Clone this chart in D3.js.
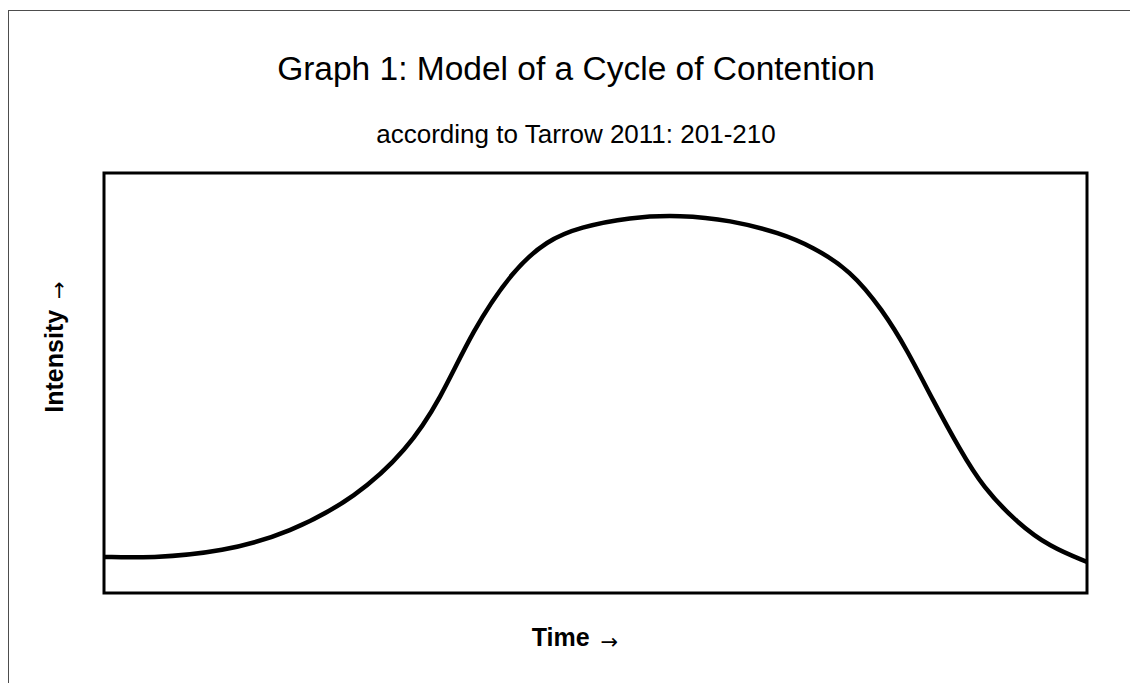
<!DOCTYPE html>
<html>
<head>
<meta charset="utf-8">
<script src="https://cdn.jsdelivr.net/npm/d3@7"></script>
<style>
  body { margin: 0; background: #fff; }
  text { font-family: "Liberation Sans", Arial, sans-serif; fill: #000; }
  .arrow { font-family: "DejaVu Sans", sans-serif; font-weight: normal; }
</style>
</head>
<body>
<div id="chart"></div>
<script>
// values (time 0-100, intensity 0-100)
const timePoints = [0, 4.7, 12.1, 18.9, 25.7, 30.8, 34.2, 37.5, 41.6, 45.1, 48.4, 53.5, 58.6,
                    63.7, 68.8, 72.1, 75.9, 79.2, 81.7, 84.3, 87.1, 89.4, 92.9, 96.2, 100];
const intensity = [8.6, 8.3, 9.8, 14.3, 22.9, 34.0, 46.0, 62.6, 76.9, 84.0, 87.1, 89.5, 90.0,
                   88.8, 85.7, 82.4, 76.9, 67.4, 57.9, 46.0, 34.0, 25.2, 16.7, 11.0, 7.4];

const titleText = 'Graph 1: Model of a Cycle of Contention';
const subtitleText = 'according to Tarrow 2011: 201-210';
const xLabel = 'Time';
const yLabel = 'Intensity';

const width = 1130, height = 683;
const margin = {top: 173, right: 43, bottom: 90, left: 104};
const textCenter = 576;

let svg = d3.select('#chart').append('svg')
    .attr('width', width)
    .attr('height', height);

// outer frame (right/bottom edges run off the picture)
svg.append('rect')
    .attr('x', 8.5).attr('y', 10.5)
    .attr('width', 1300).attr('height', 900)
    .attr('fill', 'none')
    .attr('stroke', '#4d4d4d')
    .attr('stroke-width', 1);

let x = d3.scaleLinear().domain([0, 100]).range([margin.left, width - margin.right]);
let y = d3.scaleLinear().domain([0, 100]).range([height - margin.bottom, margin.top]);

let data = timePoints.map((t, i) => ({t: t, v: intensity[i]}));

let line = d3.line()
    .x(d => x(d.t))
    .y(d => y(d.v))
    .curve(d3.curveBasis);

svg.append('defs').append('clipPath').attr('id', 'plotclip')
  .append('rect')
    .attr('x', x(0)).attr('y', y(100))
    .attr('width', x(100) - x(0)).attr('height', y(0) - y(100));

svg.append('path')
    .datum(data)
    .attr('clip-path', 'url(#plotclip)')
    .attr('d', line)
    .attr('fill', 'none')
    .attr('stroke', '#000')
    .attr('stroke-width', 4.5)
    .attr('stroke-linejoin', 'round');

// plot box
svg.append('rect')
    .attr('x', x(0)).attr('y', y(100))
    .attr('width', x(100) - x(0)).attr('height', y(0) - y(100))
    .attr('fill', 'none')
    .attr('stroke', '#000')
    .attr('stroke-width', 3);

svg.append('text')
    .attr('x', textCenter).attr('y', 80)
    .attr('text-anchor', 'middle')
    .style('font-size', '33.5px')
    .text(titleText);

svg.append('text')
    .attr('x', textCenter).attr('y', 143)
    .attr('text-anchor', 'middle')
    .style('font-size', '26px')
    .text(subtitleText);

let xl = svg.append('text')
    .attr('x', textCenter - 1).attr('y', 646)
    .attr('text-anchor', 'middle')
    .style('font-size', '25px')
    .style('font-weight', 'bold');
xl.append('tspan').text(xLabel + ' ');
xl.append('tspan').attr('class', 'arrow').attr('dx', 4).attr('dy', 3).style('font-size', '21px').text('\u2192');

let yl = svg.append('text')
    .attr('transform', 'translate(63,347) rotate(-90)')
    .attr('text-anchor', 'middle')
    .style('font-size', '25px')
    .style('font-weight', 'bold');
yl.append('tspan').text(yLabel + ' ');
yl.append('tspan').attr('class', 'arrow').attr('dx', 4).attr('dy', 3).style('font-size', '21px').text('\u2192');
</script>
</body>
</html>
